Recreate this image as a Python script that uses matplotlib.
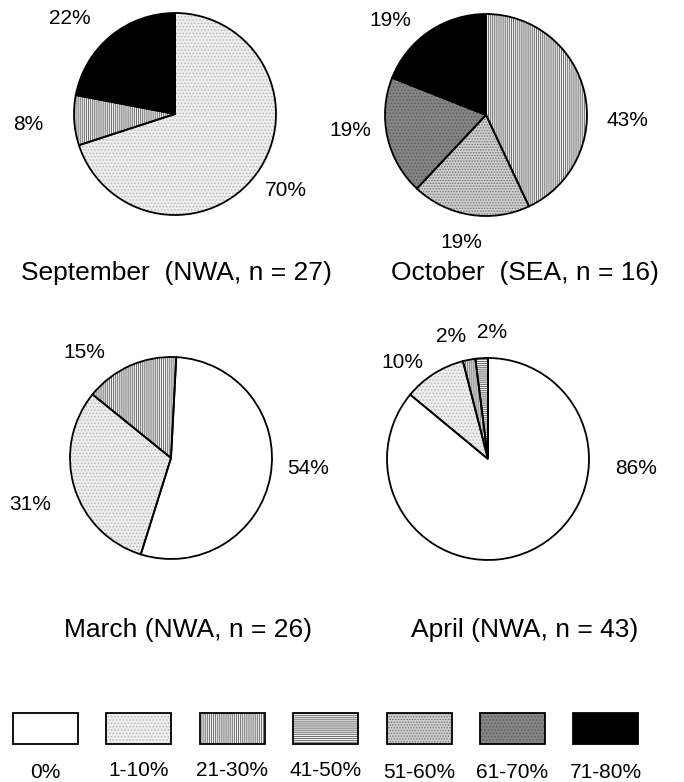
import matplotlib
matplotlib.use("Agg")
import matplotlib.pyplot as plt
from matplotlib.patches import Rectangle

plt.rcParams['font.family'] = ['Liberation Sans', 'DejaVu Sans']
plt.rcParams['hatch.linewidth'] = 0.7

# legend classes
classes = ['0%', '1-10%', '21-30%', '41-50%', '51-60%', '61-70%', '71-80%']

# pie data (percent, class), clockwise from the start angle
titles = ['September  (NWA, n = 27)', 'October  (SEA, n = 16)',
          'March (NWA, n = 26)', 'April (NWA, n = 43)']
values = [[70, 8, 22],
          [43, 19, 19, 19],
          [54, 31, 15],
          [86, 10, 2, 2]]
slice_classes = [['1-10%', '21-30%', '71-80%'],
                 ['21-30%', '51-60%', '61-70%', '71-80%'],
                 ['0%', '1-10%', '21-30%'],
                 ['0%', '1-10%', '21-30%', '41-50%']]

# fill style per class: face, hatch, hatch colour
styles = {
    '0%': ('white', None, 'white'),
    '1-10%': ('#eeeeee', '.....', '#b8b8b8'),
    '21-30%': ('#f4f4f4', '||||||||', '#6a6a6a'),
    '41-50%': ('#f4f4f4', '--------', '#6a6a6a'),
    '51-60%': ('#d0d0d0', '......', '#707070'),
    '61-70%': ('#858585', '.....', '#5c5c5c'),
    '71-80%': ('black', None, 'black'),
}

# layout in pixels (y measured from the top)
centers = [(175, 114), (486, 115), (171, 458), (488, 459)]
radius = 101
start_angles = [90, 90, 87, 90]
title_pos = [(176, 273), (525, 273), (188, 630), (525, 630)]
label_pos = [[(286, 190), (28, 124), (70, 19)],
             [(627, 120), (461, 243), (350, 131), (390, 20)],
             [(308, 468), (30, 504), (84, 352)],
             [(636, 468), (402, 363), (451, 337), (492, 333)]]
legend_x0, legend_dx = 13, 93.4
legend_y, box_w, box_h = 713, 65, 31
legend_label_y = [772, 770, 771, 770, 772, 773, 772]

W, H = 684, 782
fig = plt.figure(figsize=(6.84, 7.82), dpi=100)
ax = fig.add_axes([0, 0, 1, 1])


def fy(y):
    return H - y


for i in range(4):
    cx, cy = centers[i]
    faces = [styles[c][0] for c in slice_classes[i]]
    # hatched fill layer
    wedges, _ = ax.pie(values[i], colors=faces, startangle=start_angles[i],
                       counterclock=False, center=(cx, fy(cy)), radius=radius,
                       wedgeprops=dict(linewidth=0))
    for w, c in zip(wedges, slice_classes[i]):
        face, hatch, hcol = styles[c]
        w.set_edgecolor(hcol)
        w.set_linewidth(0)
        if hatch:
            w.set_hatch(hatch)
    # outline layer
    ax.pie(values[i], colors=['none'] * len(values[i]), startangle=start_angles[i],
           counterclock=False, center=(cx, fy(cy)), radius=radius,
           wedgeprops=dict(edgecolor='black', linewidth=1.3))
    for v, (lx, ly) in zip(values[i], label_pos[i]):
        ax.text(lx, fy(ly), f'{v}%', ha='center', va='center', fontsize=15)
    tx, ty = title_pos[i]
    ax.text(tx, fy(ty), titles[i], ha='center', va='center', fontsize=19)

# legend boxes
for k, c in enumerate(classes):
    face, hatch, hcol = styles[c]
    x = legend_x0 + k * legend_dx
    r1 = Rectangle((x, fy(legend_y + box_h)), box_w, box_h, facecolor=face,
                   edgecolor=hcol, linewidth=0, hatch=hatch)
    ax.add_patch(r1)
    r2 = Rectangle((x, fy(legend_y + box_h)), box_w, box_h, facecolor='none',
                   edgecolor='black', linewidth=1.3)
    ax.add_patch(r2)
    ax.text(x + box_w / 2, fy(legend_label_y[k]), c, ha='center', va='center',
            fontsize=15)

ax.set_xlim(0, W)
ax.set_ylim(0, H)
ax.set_aspect('equal')
ax.axis('off')

fig.savefig('out.png', dpi=100)
